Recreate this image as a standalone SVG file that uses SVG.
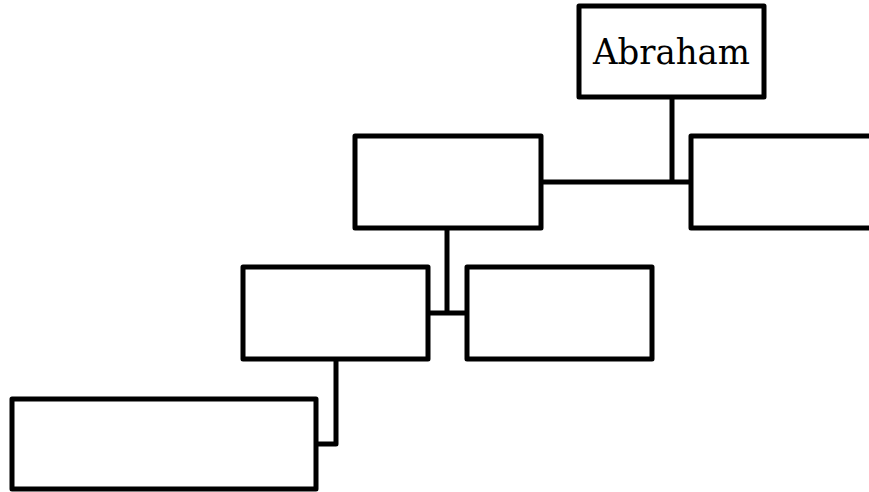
<svg xmlns="http://www.w3.org/2000/svg" width="869" height="492" viewBox="0 0 869 492">
<style>
.box{fill:#fff;stroke:#000;stroke-width:5;stroke-linejoin:round}
.ln{fill:none;stroke:#000;stroke-width:5;stroke-linejoin:round}
.t{font-family:"DejaVu Serif","Liberation Serif",serif;font-size:36px;fill:#000;text-anchor:middle}
</style>
<rect width="869" height="492" fill="#fff"/>
<g id="connectors">
<path class="ln" d="M672 97 V182"/>
<path class="ln" d="M541 182 H691"/>
<path class="ln" d="M447 228 V313"/>
<path class="ln" d="M428 313 H467"/>
<path class="ln" d="M336 359 V444 H316"/>
</g>
<g id="abraham">
<rect class="box" x="579" y="6" width="185" height="91"/>
<text class="t" x="671.5" y="64" textLength="157" lengthAdjust="spacingAndGlyphs">Abraham</text>
</g>
<g id="node-right-top"><rect class="box" x="691" y="136" width="200" height="92"/></g>
<g id="node-mid"><rect class="box" x="355" y="136" width="186" height="92"/></g>
<g id="node-left"><rect class="box" x="243" y="267" width="185" height="92"/></g>
<g id="node-right"><rect class="box" x="467" y="267" width="185" height="92"/></g>
<g id="node-bottom"><rect class="box" x="12" y="399" width="304" height="90"/></g>
</svg>
